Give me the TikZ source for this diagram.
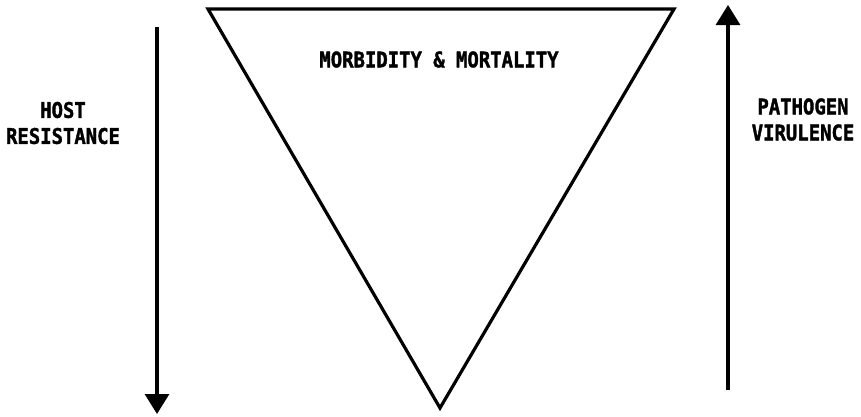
\documentclass[tikz,border=0pt]{standalone}
\usepackage{fontspec}
\newfontfamily\labfont[FakeStretch=0.88,FakeBold=1.6]{DejaVu Sans Mono}
\usetikzlibrary{arrows.meta,positioning}
\tikzset{
    lablabel/.style={align=center, inner sep=0pt,
        font=\labfont\bfseries\fontsize{21.5}{26}\selectfont},
    labedge/.style={line width=3.2pt, line join=miter},
    labarrow/.style={-{Triangle[length=20pt,width=24pt]}, line width=3.2pt}
}
\begin{document}
\begin{tikzpicture}[x=1pt,y=-1pt]
\useasboundingbox (0,0) rectangle (861,416);
\coordinate (tl) at (208,9);
\coordinate (tr) at (674,9);
\coordinate (bot) at (440,408);
\coordinate (hosttop) at (157,27);
\coordinate (hostbot) at (157,414);
\coordinate (pathbot) at (728,390);
\coordinate (pathtop) at (728,5);
\draw[labedge] (tl) -- (tr) -- (bot) -- cycle;
\node[lablabel] (morb) at (439,59.5) {MORBIDITY \& MORTALITY};
\node[lablabel] (host) at (63,123) {HOST\\RESISTANCE};
\node[lablabel] (path) at (803,119.5) {PATHOGEN\\VIRULENCE};
\draw[labarrow] (hosttop) -- (hostbot);
\draw[labarrow] (pathbot) -- (pathtop);
\end{tikzpicture}
\end{document}
